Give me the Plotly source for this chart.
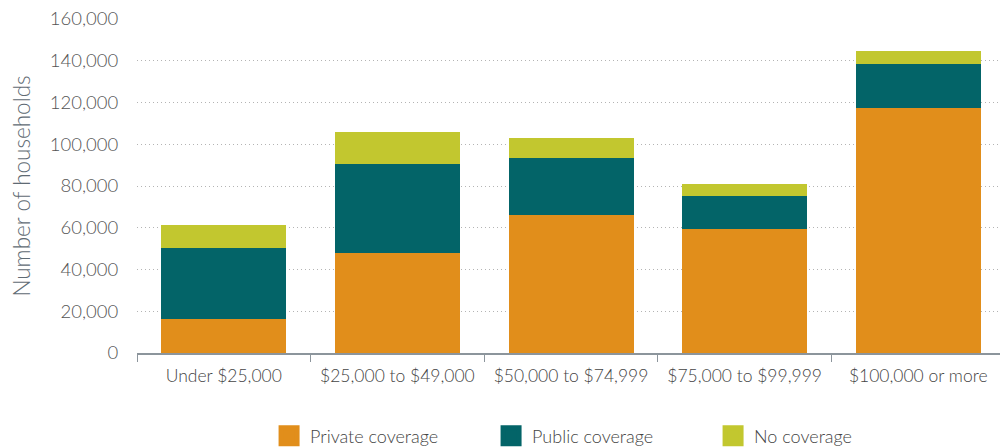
import plotly.graph_objects as go

categories = ["Under $25,000", "$25,000 to $49,000", "$50,000 to $74,999",
              "$75,000 to $99,999", "$100,000 or more"]
private_cov = [16400, 48000, 66300, 59600, 117500]
public_cov = [34000, 42700, 27200, 15800, 21100]
no_cov = [11000, 15300, 9600, 5700, 6200]

series = [
    ("Private coverage", private_cov, "#E18E1B"),
    ("Public coverage", public_cov, "#036468"),
    ("No coverage", no_cov, "#C2C72F"),
]

fig = go.Figure()
for name, vals, color in series:
    fig.add_trace(go.Bar(x=categories, y=vals, name=name, marker_color=color,
                         marker_line_width=0, showlegend=False))
    # bigger legend swatches than bar legend gives
    fig.add_trace(go.Scatter(x=[None], y=[None], mode="markers", name=name,
                             marker=dict(symbol="square", size=22, color=color,
                                         line=dict(width=9, color=color))))

# page body has an 8px margin, so the figure is kept 8px smaller
fig.update_layout(
    barmode="stack",
    bargap=0.28,
    width=1000, height=440,
    margin=dict(l=129, r=3, t=11, b=95, autoexpand=False),
    paper_bgcolor="white", plot_bgcolor="white",
    font=dict(family="Lato", color="#444444", weight=300),
    legend=dict(orientation="h", x=0.151, xanchor="left", y=-0.2485, yanchor="middle",
                traceorder="normal",
                font=dict(size=18, color="#444444", weight=300), entrywidth=175,
                itemwidth=32),
)

fig.update_xaxes(
    showgrid=False, showline=True, linecolor="#8C959C", linewidth=1.5,
    ticks="outside", tickson="boundaries", ticklen=7, tickcolor="#8C959C",
    ticklabelstandoff=6,
    tickfont=dict(size=17.5, color="#444444", weight=300),
)
fig.update_yaxes(
    range=[0, 160000], dtick=20000, tickformat=",",
    showgrid=True, gridcolor="#B4B4B4", griddash="1px,3px", gridwidth=1,
    zeroline=False, ticks="outside", ticklen=14, tickcolor="rgba(0,0,0,0)",
    ticklabeloverflow="allow",
    tickfont=dict(size=18.5, color="#555555", weight=300),
    title=dict(text="Number of households",
               font=dict(size=22.5, color="#5F6B74", weight=300),
               standoff=19),
)

fig.write_html("out.html")
